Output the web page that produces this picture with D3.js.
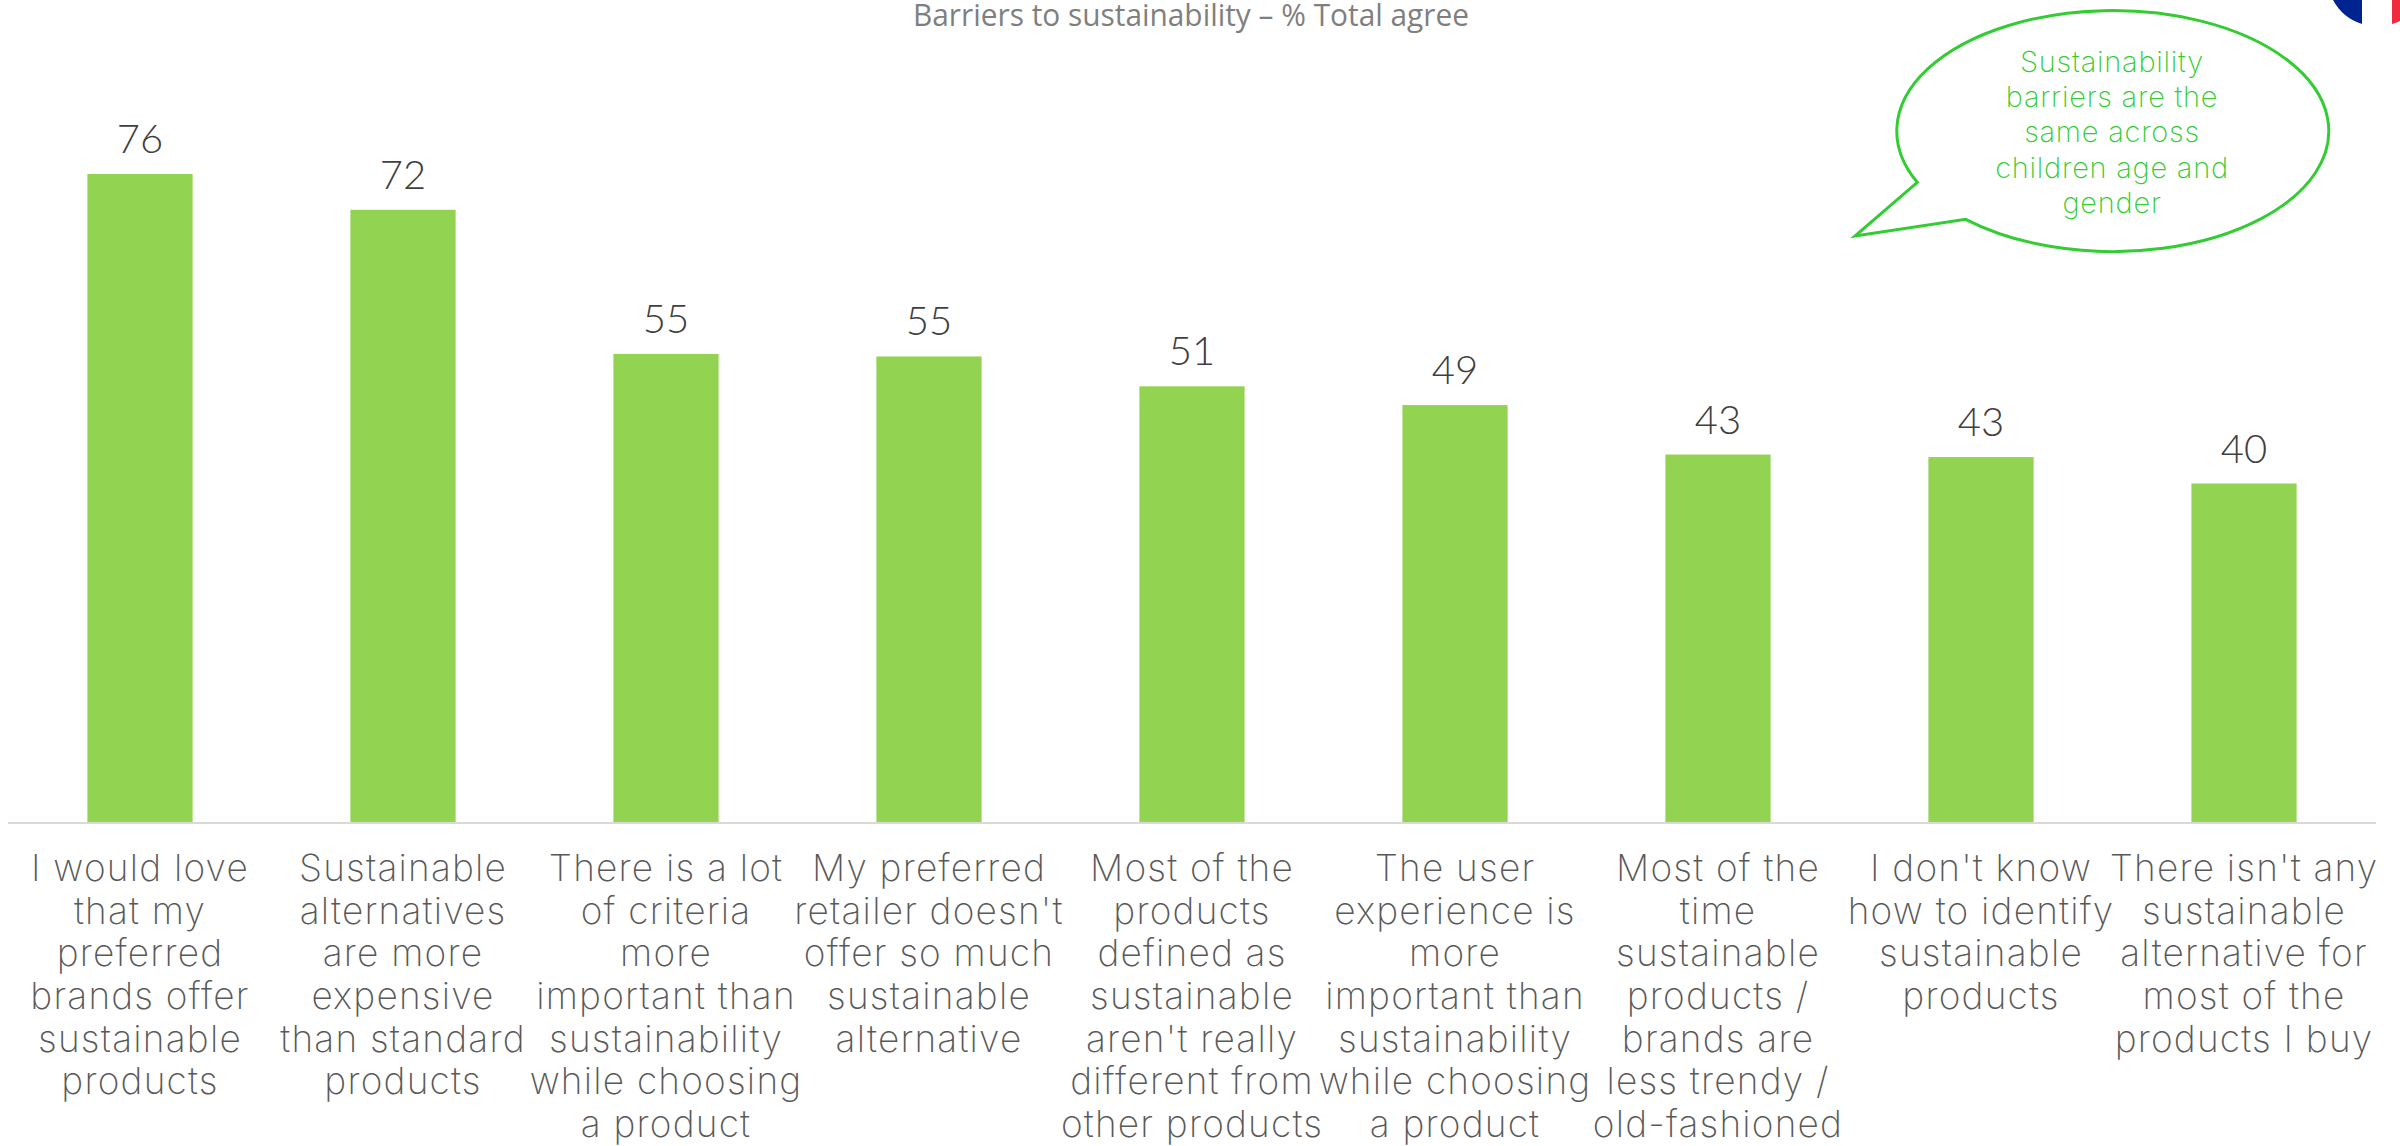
<!DOCTYPE html>
<html><head><meta charset="utf-8">
<script src="https://cdn.jsdelivr.net/npm/d3@7"></script>
<style>html,body{margin:0;padding:0;background:#fff;overflow:hidden}svg{display:block}</style>
</head><body><svg id="c" width="2400" height="1146"></svg>
<script>
const chartTitle = "Barriers to sustainability – % Total agree";
const categories = [
 ["I would love","that my","preferred","brands offer","sustainable","products"],
 ["Sustainable","alternatives","are more","expensive","than standard","products"],
 ["There is a lot","of criteria","more","important than","sustainability","while choosing","a product"],
 ["My preferred","retailer doesn't","offer so much","sustainable","alternative"],
 ["Most of the","products","defined as","sustainable","aren't really","different from","other products"],
 ["The user","experience is","more","important than","sustainability","while choosing","a product"],
 ["Most of the","time","sustainable","products /","brands are","less trendy /","old-fashioned"],
 ["I don't know","how to identify","sustainable","products"],
 ["There isn't any","sustainable","alternative for","most of the","products I buy"]
];
const values = [76,71.8,54.9,54.6,51.1,48.9,43.1,42.8,39.7];
const calloutLines = ["Sustainability","barriers are the","same across","children age and","gender"];
const font = "Inter, sans-serif";
const svg = d3.select("#c");
const x = d3.scaleBand().domain(d3.range(values.length)).range([8.5,2375.5]).paddingInner(0.6).paddingOuter(0.3);
const y = d3.scaleLinear().domain([0,76]).range([822,174]);

svg.append("text").attr("x",1191).attr("y",26).attr("text-anchor","middle")
  .attr("font-family","'Open Sans', sans-serif").attr("font-size",31).attr("fill","#7f7f7f")
  .attr("textLength",556).attr("lengthAdjust","spacingAndGlyphs").text(chartTitle);

const flag = svg.append("g");
flag.append("path").attr("d","M2333 0 A50 50 0 0 0 2362 24 L2362 0Z").attr("fill","#00248f");
flag.append("path").attr("d","M2392 0 L2392 24 A50 50 0 0 0 2400 21 L2400 0Z").attr("fill","#ef2b3d");

svg.selectAll("rect.bar").data(values).join("rect").attr("class","bar")
  .attr("x",(d,i)=>x(i)).attr("width",x.bandwidth())
  .attr("y",d=>y(d)).attr("height",d=>y(0)-y(d)).attr("fill","#92d351");

svg.append("line").attr("x1",8).attr("x2",2376).attr("y1",823).attr("y2",823).attr("stroke","#d9d9d9").attr("stroke-width",2);

svg.selectAll("text.val").data(values).join("text").attr("class","val")
  .attr("x",(d,i)=>x(i)+x.bandwidth()/2).attr("y",d=>y(d)-21).attr("text-anchor","middle")
  .attr("font-family","Lato, sans-serif").attr("font-weight",300).attr("font-size",40).attr("fill","#404040")
  .text(d=>Math.round(d));

const lab = svg.selectAll("g.lab").data(categories).join("g").attr("class","lab")
  .attr("transform",(d,i)=>`translate(${x(i)+x.bandwidth()/2},881)`);
lab.selectAll("text").data(d=>d).join("text").attr("x",0).attr("y",(d,i)=>i*42.67)
  .attr("text-anchor","middle").attr("font-family",font).attr("font-weight",200).attr("font-size",37).attr("letter-spacing",1.2).attr("fill","#595959").text(d=>d);

svg.append("path").attr("d","M1917.3 182.3 A216 120.5 0 1 1 1965.7 219.3 L1855 236 Z")
  .attr("fill","#fff").attr("stroke","#33cc33").attr("stroke-width",3);
svg.selectAll("text.call").data(calloutLines).join("text").attr("class","call")
  .attr("x",2112).attr("y",(d,i)=>72+i*35.2).attr("text-anchor","middle")
  .attr("font-family",font).attr("font-weight",200).attr("font-size",29).attr("letter-spacing",0.75).attr("fill","#33cc33").text(d=>d);
</script></body></html>
